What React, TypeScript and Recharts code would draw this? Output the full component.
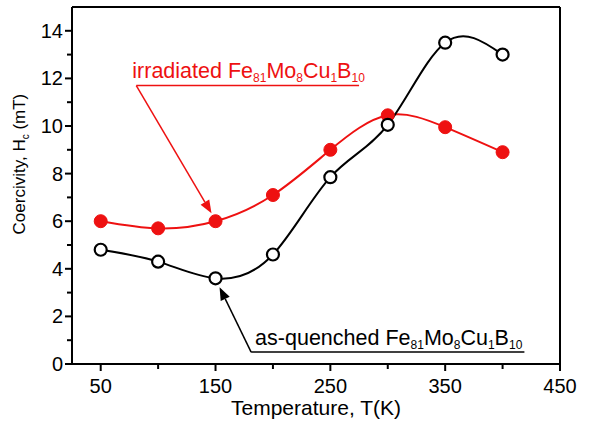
import React from 'react';
import { LineChart, Line, XAxis, YAxis, ReferenceLine, Label } from 'recharts';

const temps = [50, 100, 150, 200, 250, 300, 350, 400];
const asQuenched = [4.8, 4.3, 3.6, 4.6, 7.85, 10.05, 13.5, 13.0];
const irradiated = [6.0, 5.7, 6.0, 7.1, 9.0, 10.45, 9.95, 8.9];

const xTicks = [50, 100, 150, 200, 250, 300, 350, 400, 450];
const yTicks = [0, 1, 2, 3, 4, 5, 6, 7, 8, 9, 10, 11, 12, 13, 14];

// annotation anchors in data units: underline start, underline end, arrow tip
const redNote = { x0: 81, x1: 275, y: 11.7, tipX: 146.5, tipY: 6.33 };
const blackNote = { x0: 181, x1: 419, y: 0.5, tipX: 153.5, tipY: 3.23 };

const data = temps.map((t, i) => ({ t, asq: asQuenched[i], irr: irradiated[i] }));

const FONT = '"Liberation Sans", Arial, sans-serif';
const RED = '#ee1111';

const XTick = (props: any) => {
  const { x, y, payload } = props;
  const major = (payload.value - 50) % 100 === 0;
  return (
    <g>
      <line x1={x} x2={x} y1={y} y2={y + (major ? 7 : 5)} stroke="#000" strokeWidth={2} />
      {major && (
        <text x={x} y={y + 29} textAnchor="middle" fontSize={20} fontFamily={FONT} fill="#000">
          {payload.value}
        </text>
      )}
    </g>
  );
};

const YTick = (props: any) => {
  const { x, y, payload } = props;
  const major = payload.value % 2 === 0;
  return (
    <g>
      <line x1={x} x2={x - (major ? 7 : 5)} y1={y} y2={y} stroke="#000" strokeWidth={2} />
      {major && (
        <text x={x - 9} y={y + 7} textAnchor="end" fontSize={20} fontFamily={FONT} fill="#000">
          {payload.value}
        </text>
      )}
    </g>
  );
};

const Formula = ({ prefix }: { prefix: string }) => (
  <>
    <tspan>{prefix} Fe</tspan>
    <tspan fontSize={12} dy={4}>81</tspan>
    <tspan dy={-4}>Mo</tspan>
    <tspan fontSize={12} dy={4}>8</tspan>
    <tspan dy={-4}>Cu</tspan>
    <tspan fontSize={12} dy={4}>1</tspan>
    <tspan dy={-4}>B</tspan>
    <tspan fontSize={12} dy={4}>10</tspan>
  </>
);

const underline = (color: string, prefix: string, dx: number, dy: number) => (p: any) => (
  <g>
    <line x1={p.x1} y1={p.y1} x2={p.x2} y2={p.y2} stroke={color} strokeWidth={1.5} />
    <text x={Math.min(p.x1, p.x2) + dx} y={p.y1 + dy} fontSize={21.5} fontFamily={FONT} fill={color}>
      <Formula prefix={prefix} />
    </text>
  </g>
);

const arrow = (color: string) => (p: any) => {
  const ang = Math.atan2(p.y2 - p.y1, p.x2 - p.x1);
  const len = 13;
  const w = 5;
  const bx = p.x2 - len * Math.cos(ang);
  const by = p.y2 - len * Math.sin(ang);
  const nx = -Math.sin(ang) * w;
  const ny = Math.cos(ang) * w;
  return (
    <g>
      <line x1={p.x1} y1={p.y1} x2={bx} y2={by} stroke={color} strokeWidth={1.5} />
      <polygon points={`${p.x2},${p.y2} ${bx + nx},${by + ny} ${bx - nx},${by - ny}`} fill={color} />
    </g>
  );
};

export default function App() {
  return (
    <div style={{ position: 'absolute', left: 0, top: 0, background: '#fff' }}>
      <LineChart width={597} height={423} data={data} margin={{ top: 7, right: 37, left: 0, bottom: 0 }}>
        <XAxis
          dataKey="t"
          type="number"
          domain={[25, 450]}
          ticks={xTicks}
          interval={0}
          tick={XTick}
          tickLine={false}
          tickSize={0}
          tickMargin={0}
          height={59}
          axisLine={{ stroke: '#000', strokeWidth: 2 }}
        >
          <Label
            content={(p: any) => {
              const vb = p.viewBox;
              return (
                <text x={vb.x + vb.width / 2} y={vb.y + 51} textAnchor="middle" fontSize={21} fontFamily={FONT} fill="#000">
                  Temperature, T(K)
                </text>
              );
            }}
          />
        </XAxis>
        <YAxis
          type="number"
          domain={[0, 15]}
          ticks={yTicks}
          interval={0}
          tick={YTick}
          tickLine={false}
          tickSize={0}
          tickMargin={0}
          width={72}
          axisLine={{ stroke: '#000', strokeWidth: 2 }}
        >
          <Label
            content={(p: any) => {
              const vb = p.viewBox;
              const cx = 25;
              const cy = vb.y + vb.height * 0.44;
              return (
                <text x={cx} y={cy} transform={`rotate(-90 ${cx} ${cy})`} textAnchor="middle" fontSize={17} fontFamily={FONT} fill="#000">
                  <tspan>Coercivity, H</tspan>
                  <tspan fontSize={10} dy={4}>c</tspan>
                  <tspan dy={-4}> (mT)</tspan>
                </text>
              );
            }}
          />
        </YAxis>
        <ReferenceLine y={15} stroke="#000" strokeWidth={2} />
        <ReferenceLine x={450} stroke="#000" strokeWidth={2} />
        <ReferenceLine
          segment={[{ x: redNote.x0, y: redNote.y }, { x: redNote.x1, y: redNote.y }]}
          shape={underline(RED, 'irradiated', -4, -8)}
        />
        <ReferenceLine
          segment={[{ x: redNote.x0, y: redNote.y }, { x: redNote.tipX, y: redNote.tipY }]}
          shape={arrow(RED)}
        />
        <ReferenceLine
          segment={[{ x: blackNote.x0, y: blackNote.y }, { x: blackNote.x1, y: blackNote.y }]}
          shape={underline('#000', 'as-quenched', 4, -7)}
        />
        <ReferenceLine
          segment={[{ x: blackNote.x0, y: blackNote.y }, { x: blackNote.tipX, y: blackNote.tipY }]}
          shape={arrow('#000')}
        />
        <Line
          dataKey="irr"
          type="natural"
          stroke={RED}
          strokeWidth={2}
          dot={{ r: 6.5, fill: RED, stroke: RED, strokeWidth: 1 }}
          isAnimationActive={false}
        />
        <Line
          dataKey="asq"
          type="natural"
          stroke="#000"
          strokeWidth={2}
          dot={{ r: 6, fill: '#fff', stroke: '#000', strokeWidth: 2.2 }}
          isAnimationActive={false}
        />
      </LineChart>
    </div>
  );
}
